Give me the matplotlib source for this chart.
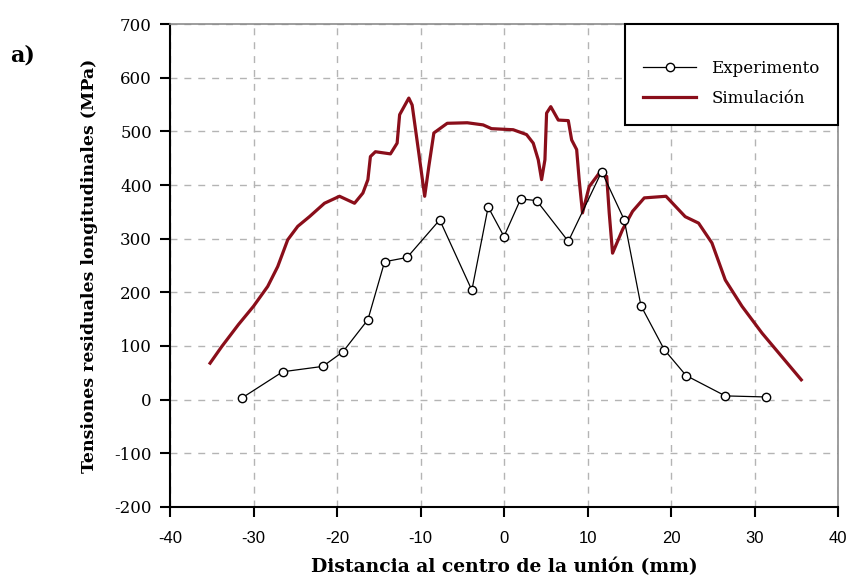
import matplotlib
matplotlib.use("Agg")
import matplotlib.pyplot as plt

# Experimento
exp_x = [-31.4, -26.5, -21.7, -19.3, -16.3, -14.3, -11.6, -7.7, -3.85, -1.9, 0.0,
         2.0, 3.9, 7.7, 11.7, 14.4, 16.4, 19.2, 21.8, 26.5, 31.4]
exp_y = [3, 52, 62, 89, 149, 257, 265, 335, 204, 359, 304,
         374, 371, 295, 425, 335, 175, 93, 45, 7, 5]

# Simulación curve
sim_x = [-35.2, -33.8, -31.8, -30.0, -28.3, -27.1, -25.9, -24.7, -23.3, -21.5, -19.7,
         -17.9, -16.9, -16.3, -16.0, -15.4, -13.6, -12.8, -12.5, -11.4, -11.0, -10.2,
         -9.5, -9.0, -8.4, -6.8, -4.4, -2.5, -1.5, 1.1, 2.7, 3.5, 4.1, 4.5, 4.9, 5.1,
         5.6, 6.5, 7.7, 8.1, 8.7, 9.0, 9.4, 10.2, 11.4, 12.3, 12.6, 13.0, 14.2, 15.4,
         16.8, 19.4, 21.7, 23.3, 24.9, 26.5, 28.5, 30.9, 35.6]
sim_y = [68, 99, 140, 174, 211, 248, 298, 323, 341, 366, 379,
         366, 385, 410, 453, 462, 458, 478, 531, 562, 549, 459,
         379, 435, 497, 515, 516, 512, 505, 503, 494, 478, 447, 410, 447, 534,
         546, 521, 520, 484, 466, 410, 348, 397, 422, 416, 348, 273, 317, 351,
         376, 379, 341, 329, 292, 223, 174, 124, 37]

x_ticks = [-40, -30, -20, -10, 0, 10, 20, 30, 40]
y_ticks = [-200, -100, 0, 100, 200, 300, 400, 500, 600, 700]

SERIF = ["DejaVu Serif"]
SANS = ["Liberation Sans", "DejaVu Sans"]
RED = "#8a0e1a"

plt.rcParams["axes.unicode_minus"] = False

fig = plt.figure(figsize=(8.5, 5.83), dpi=100)
ax = fig.add_axes([0.2, 0.1304, 0.7859, 0.8284])

ax.plot(exp_x, exp_y, color="black", lw=0.9, marker="o", ms=6,
        mfc="white", mec="black", mew=1.0, label="Experimento", zorder=4)
ax.plot(sim_x, sim_y, color=RED, lw=2.3, label="Simulación", zorder=3)

ax.set_xlim(-40, 40)
ax.set_ylim(-200, 700)
ax.set_xticks(x_ticks)
ax.set_yticks(y_ticks)
ax.grid(True, color="#b4b4b4", linestyle=(0, (5, 5)), lw=1.0)
ax.set_axisbelow(True)

for s in ["top", "right"]:
    ax.spines[s].set_color("#8c8c8c")
    ax.spines[s].set_linewidth(1.2)
for s in ["left", "bottom"]:
    ax.spines[s].set_color("black")
    ax.spines[s].set_linewidth(1.5)
ax.tick_params(direction="out", length=7, width=1.5, pad=6)
ax.tick_params(axis="x", pad=10)

for lab in ax.get_xticklabels():
    lab.set_family(SANS)
    lab.set_fontsize(12)
for lab in ax.get_yticklabels():
    lab.set_family(SERIF)
    lab.set_fontsize(12)

ax.set_xlabel("Distancia al centro de la unión (mm)", family=SERIF,
              fontweight="bold", fontsize=13.5, labelpad=9)
ax.set_ylabel("Tensiones residuales longitudinales (MPa)", family=SERIF,
              fontweight="bold", fontsize=12.5, labelpad=12)

leg = ax.legend(loc="upper right", prop={"family": SERIF, "size": 12},
                fancybox=False, framealpha=1, edgecolor="black",
                borderaxespad=0, handlelength=3.2, borderpad=1.1,
                labelspacing=0.8, handletextpad=0.9,
                title=" ", title_fontsize=2)
leg.get_frame().set_linewidth(1.5)

fig.text(0.012, 0.895, "a)", family=SERIF, fontweight="bold", fontsize=16)

fig.savefig("out.png", dpi=100)
